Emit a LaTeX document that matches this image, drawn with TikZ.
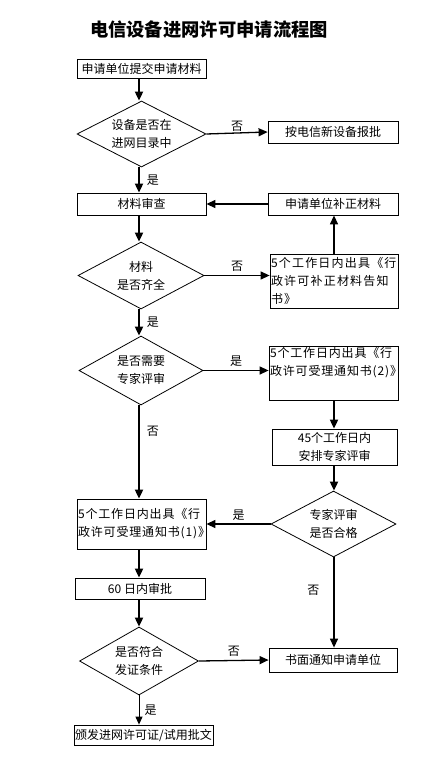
\documentclass[tikz,border=0pt]{standalone}
\usepackage{fontspec}
\setmainfont{Noto Sans CJK SC}
\usetikzlibrary{shapes.geometric,arrows.meta}
\begin{document}
\begin{tikzpicture}[x=1pt,y=-1pt,
  font=\fontsize{12}{18}\selectfont,
  box/.style={draw, rectangle, line width=0.8pt, inner sep=0pt, align=center},
  lbox/.style={draw, rectangle, line width=0.8pt, inner sep=1pt, align=left, anchor=center},
  dia/.style={draw, diamond, aspect=2, line width=0.8pt, inner sep=0pt, align=center},
  thk/.style={line width=1.9pt, -{Triangle[length=9pt,width=8pt]}},
  thn/.style={line width=1.3pt, -{Triangle[length=9pt,width=8pt]}},
  lab/.style={inner sep=0pt, font=\fontsize{12}{14}\selectfont}
]
\useasboundingbox (0,0) rectangle (440,759);
\node[font=\fontsize{18.3}{20}\selectfont\bfseries] (title) at (209,30) {电信设备进网许可申请流程图};

\node[box, minimum width=129, minimum height=19] (b1) at (141.5,68.5) {申请单位提交申请材料};
\node[dia, minimum width=129, minimum height=66] (d1) at (141.5,134) {设备是否在\\进网目录中};
\node[box, minimum width=130, minimum height=22] (newdev) at (333,132) {按电信新设备报批};
\node[box, minimum width=129, minimum height=22] (review) at (141.5,204) {材料审查};
\node[box, minimum width=130, minimum height=22] (fix) at (333,204) {申请单位补正材料};
\node[dia, minimum width=126, minimum height=67] (d2) at (141,275.5) {材料\\是否齐全};
\node[lbox, minimum width=128, minimum height=54, text width=126] (notice5) at (334,281)
  {\addfontfeature{LetterSpace=10}5个工作日内出具《行\\政许可补正材料告知\\书》};
\node[dia, minimum width=124, minimum height=69] (d3) at (141,370.5) {是否需要\\专家评审};
\node[lbox, minimum width=129, minimum height=54, text width=127] (accept2) at (333.5,373)
  {\addfontfeature{LetterSpace=7}5个工作日内出具《行\\政许可受理通知书(2)》\\\strut};
\node[box, minimum width=125, minimum height=36] (expert) at (334.5,447) {45个工作日内\\安排专家评审};
\node[lbox, minimum width=129, minimum height=50, text width=127] (accept1) at (141.5,524)
  {\addfontfeature{LetterSpace=7}5个工作日内出具《行\\政许可受理通知书(1)》};
\node[dia, minimum width=125, minimum height=66] (d4) at (333.5,524) {专家评审\\是否合格};
\node[box, minimum width=130, minimum height=21] (approve) at (140,588.5) {60 日内审批};
\node[dia, minimum width=119, minimum height=68] (d5) at (139,661) {是否符合\\发证条件};
\node[box, minimum width=128, minimum height=24] (written) at (333,660) {书面通知申请单位};
\node[box, minimum width=139, minimum height=20] (issue) at (143.5,735) {颁发进网许可证/试用批文};

\draw[thk] (b1.south -| 139,0) -- (d1.north -| 139,0);
\draw[thn] (d1.east) -- node[lab, midway, above=1pt] {否} (newdev.west);
\draw[thk] (d1.south -| 139,0) -- node[lab, midway, right=7pt] {是} (review.north -| 139,0);
\draw[thn] (fix.west) -- (review.east);
\draw[thn] (notice5.north -| 334,0) -- (fix.south -| 334,0);
\draw[thk] (review.south -| 139,0) -- (d2.north -| 139,0);
\draw[thn] (d2.east) -- node[lab, midway, above=3pt] {否} (notice5.west |- d2.east);
\draw[thk] (d2.south -| 139,0) -- node[lab, midway, right=7pt] {是} (d3.north -| 139,0);
\draw[thn] (d3.east) -- node[lab, midway, above=3pt] {是} (accept2.west |- d3.east);
\draw[thk] (accept2.south -| 334,0) -- (expert.north -| 334,0);
\draw[thk] (expert.south -| 334,0) -- (d4.north -| 334,0);
\draw[thk] (d3.south -| 139,0) -- node[lab, pos=0.28, right=7pt] {否} (accept1.north -| 139,0);
\draw[thn] (d4.west) -- node[lab, midway, above=3pt] {是} (accept1.east);
\draw[thn] (d4.south -| 334,0) -- node[lab, pos=0.36, left=14pt] {否} (written.north -| 334,0);
\draw[thk] (accept1.south -| 139,0) -- (approve.north -| 139,0);
\draw[thk] (approve.south -| 139,0) -- (d5.north -| 139,0);
\draw[thn] (d5.east) -- node[lab, midway, above=3pt] {否} (written.west);
\draw[line width=1pt, -{Triangle[length=8pt,width=7pt]}] (d5.south -| 139,0) -- node[lab, midway, right=5pt] {是} (issue.north -| 139,0);
\end{tikzpicture}
\end{document}
